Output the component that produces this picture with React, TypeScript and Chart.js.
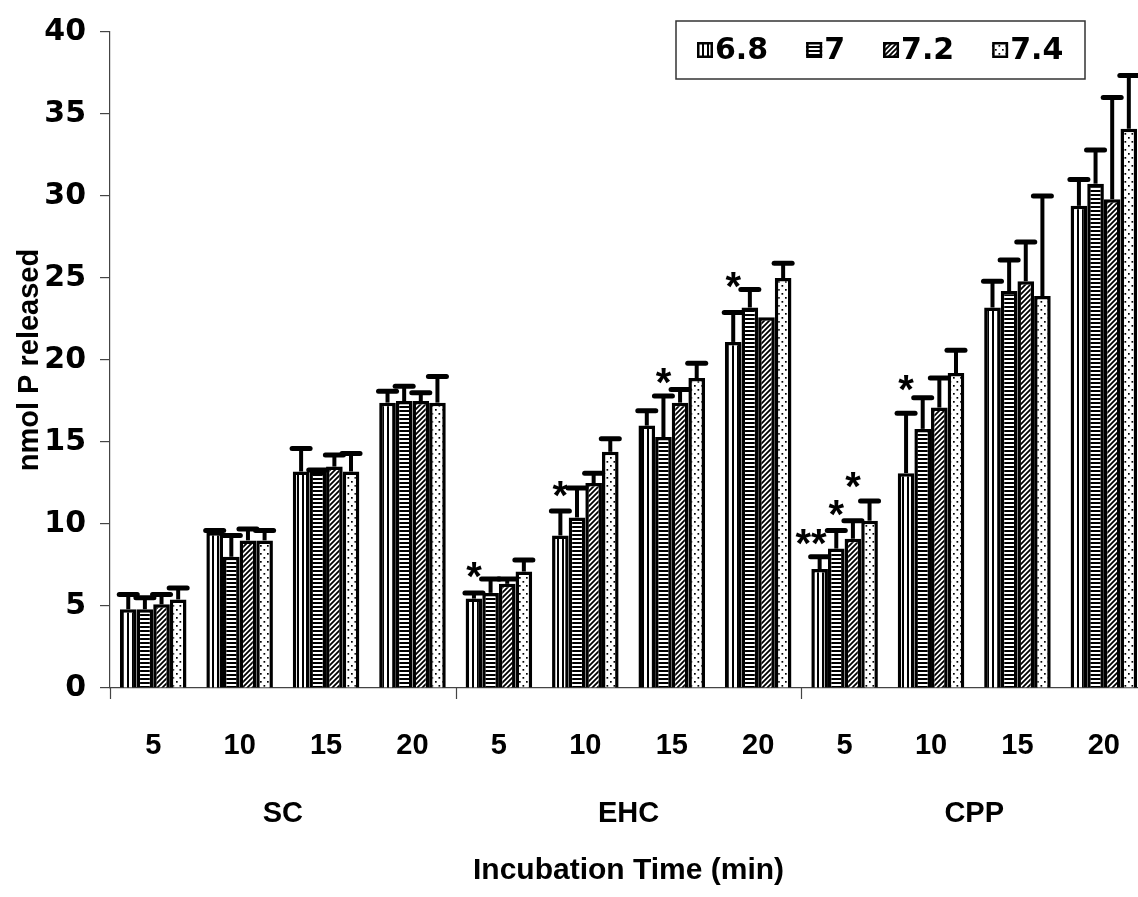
import React, { useEffect, useRef } from "react";
import { Chart, registerables } from "chart.js";

Chart.register(...registerables);

// ---------- data ----------
const categories = ["5", "10", "15", "20", "5", "10", "15", "20", "5", "10", "15", "20"];
const groupLabels = ["SC", "EHC", "CPP"];
const seriesLabels = ["6.8", "7", "7.2", "7.4"];

const ph68 = [4.8, 9.5, 13.2, 17.4, 5.45, 9.3, 16.0, 21.1, 7.25, 13.1, 23.2, 29.4];
const ph70 = [4.8, 8.0, 13.2, 17.5, 5.8, 10.4, 15.3, 23.2, 8.5, 15.8, 24.2, 30.75];
const ph72 = [5.1, 9.0, 13.5, 17.5, 6.35, 12.5, 17.4, 22.6, 9.1, 17.1, 24.8, 29.8];
const ph74 = [5.4, 9.0, 13.2, 17.4, 7.1, 14.4, 18.9, 25.0, 10.2, 19.2, 23.9, 34.1];

const err68 = [0.9, 0.1, 1.4, 0.7, 0.35, 1.5, 0.9, 1.8, 0.75, 3.65, 1.6, 1.6];
const err70 = [0.7, 1.3, 0.1, 0.9, 0.85, 1.8, 2.5, 1.1, 1.1, 1.9, 1.9, 2.05];
const err72 = [0.6, 0.7, 0.7, 0.5, 0.3, 0.6, 0.8, 0, 1.1, 1.8, 2.4, 6.2];
const err74 = [0.7, 0.6, 1.1, 1.6, 0.7, 0.8, 0.9, 0.9, 1.2, 1.4, 6.1, 3.25];

// significance marks
const markCategory = [4, 5, 6, 7, 8, 8, 8, 9];
const markSeries = [0, 0, 1, 0, 0, 1, 2, 0];
const markValue = [7.4, 12.3, 19.2, 25.1, 9.4, 11.2, 12.9, 18.8];
const markText = ["*", "*", "*", "*", "**", "*", "*", "*"];

const yTicksMin = 0;
const yTicksMax = 40;
const yTickStep = 5;

const yTitle = "nmol P released";
const xTitle = "Incubation Time (min)";

// ---------- patterns ----------
function makePattern(kind: string): CanvasPattern | string {
  const c = document.createElement("canvas");
  const g = c.getContext("2d");
  if (!g) return "#fff";
  if (kind === "v") {
    c.width = 5; c.height = 5;
    g.fillStyle = "#fff"; g.fillRect(0, 0, 5, 5);
    g.fillStyle = "#000"; g.fillRect(2, 0, 2, 5);
  } else if (kind === "h") {
    c.width = 4; c.height = 4;
    g.fillStyle = "#fff"; g.fillRect(0, 0, 4, 4);
    g.fillStyle = "#000"; g.fillRect(0, 2, 4, 2);
  } else if (kind === "d") {
    c.width = 5; c.height = 5;
    g.fillStyle = "#fff"; g.fillRect(0, 0, 5, 5);
    g.strokeStyle = "#000"; g.lineWidth = 1.8;
    g.beginPath();
    g.moveTo(-1, 6); g.lineTo(6, -1);
    g.moveTo(-1, 1); g.lineTo(1, -1);
    g.moveTo(4, 6); g.lineTo(6, 4);
    g.stroke();
  } else {
    c.width = 7; c.height = 8;
    g.fillStyle = "#fff"; g.fillRect(0, 0, 7, 8);
    g.fillStyle = "#000";
    g.fillRect(1, 1, 1.7, 1.7);
    g.fillRect(4.5, 5, 1.7, 1.7);
  }
  const p = g.createPattern(c, "repeat");
  return p || "#fff";
}

const SANS = "'Liberation Sans', Arial, sans-serif";
const WIDE = "'DejaVu Sans', Verdana, sans-serif";

// ---------- plugins ----------
const errorBarPlugin = {
  id: "errorBars",
  afterDatasetsDraw(chart: any) {
    const ctx = chart.ctx;
    const y = chart.scales.y;
    chart.data.datasets.forEach((ds: any, di: number) => {
      const meta = chart.getDatasetMeta(di);
      meta.data.forEach((bar: any, i: number) => {
        const v = ds.data[i];
        const e = ds.errors[i];
        if (!e) return;
        const y0 = y.getPixelForValue(v);
        const y1 = y.getPixelForValue(v + e);
        ctx.save();
        ctx.strokeStyle = "#000";
        ctx.lineWidth = 4;
        ctx.beginPath();
        ctx.moveTo(bar.x, y0);
        ctx.lineTo(bar.x, y1);
        ctx.stroke();
        ctx.lineWidth = 5;
        ctx.lineCap = "round";
        ctx.beginPath();
        ctx.moveTo(bar.x - 9, y1);
        ctx.lineTo(bar.x + 9, y1);
        ctx.stroke();
        ctx.restore();
      });
    });
  },
};

const decorPlugin = {
  id: "decor",
  afterDraw(chart: any) {
    const ctx = chart.ctx;
    const x = chart.scales.x;
    const y = chart.scales.y;
    const area = chart.chartArea;
    const n = chart.data.labels.length;
    const catW = (area.right - area.left) / n;
    const perGroup = n / groupLabels.length;

    ctx.save();
    // group separator ticks
    ctx.strokeStyle = "#444";
    ctx.lineWidth = 1.2;
    for (let gI = 0; gI <= groupLabels.length; gI++) {
      const px = Math.round(area.left + gI * perGroup * catW) + 0.5;
      ctx.beginPath();
      ctx.moveTo(px, area.bottom);
      ctx.lineTo(px, area.bottom + 11);
      ctx.stroke();
    }
    // group labels
    ctx.fillStyle = "#000";
    ctx.font = `bold 29px ${SANS}`;
    ctx.textAlign = "center";
    ctx.textBaseline = "middle";
    groupLabels.forEach((lab, gI) => {
      const a = x.getPixelForValue(gI * perGroup);
      const b = x.getPixelForValue(gI * perGroup + perGroup - 1);
      ctx.fillText(lab, (a + b) / 2, 814);
    });

    // significance marks
    const fs = 40;
    ctx.font = `bold ${fs}px ${SANS}`;
    ctx.textBaseline = "alphabetic";
    markText.forEach((t, k) => {
      const meta = chart.getDatasetMeta(markSeries[k]);
      const bar = meta.data[markCategory[k]];
      const py = y.getPixelForValue(markValue[k]) + fs * 0.58;
      if (t.length > 1) {
        ctx.textAlign = "right";
        ctx.fillText(t, bar.x + 7, py);
      } else {
        ctx.textAlign = "center";
        ctx.fillText(t, bar.x, py);
      }
    });

    // legend
    const bx = 676, by = 21, bw = 409, bh = 58;
    ctx.strokeStyle = "#333";
    ctx.lineWidth = 1.5;
    ctx.fillStyle = "#fff";
    ctx.fillRect(bx, by, bw, bh);
    ctx.strokeRect(bx, by, bw, bh);
    ctx.font = `bold 30px ${WIDE}`;
    ctx.textAlign = "left";
    ctx.textBaseline = "middle";
    let cx = 697;
    const cy = by + bh / 2;
    chart.data.datasets.forEach((ds: any) => {
      const s = 16;
      ctx.fillStyle = ds.backgroundColor;
      ctx.fillRect(cx, cy - s / 2, s, s);
      ctx.strokeStyle = "#000";
      ctx.lineWidth = 2.5;
      ctx.strokeRect(cx + 1.25, cy - s / 2 + 1.25, s - 2.5, s - 2.5);
      ctx.fillStyle = "#000";
      ctx.fillText(ds.label, cx + s + 2, cy + 1);
      const tw = ctx.measureText(ds.label).width;
      cx += s + 2 + tw + 38;
    });
    ctx.restore();
  },
};

export default function App() {
  const ref = useRef<HTMLCanvasElement | null>(null);

  useEffect(() => {
    if (!ref.current) return;
    const fills = [makePattern("v"), makePattern("h"), makePattern("d"), makePattern("dots")];
    const values = [ph68, ph70, ph72, ph74];
    const errs = [err68, err70, err72, err74];
    const chart = new Chart(ref.current, {
      type: "bar",
      data: {
        labels: categories,
        datasets: seriesLabels.map((lab, i) => ({
          label: lab,
          data: values[i],
          errors: errs[i],
          backgroundColor: fills[i],
          borderColor: "#000",
          borderWidth: 3.5,
          borderSkipped: "bottom",
          barPercentage: 1,
          categoryPercentage: 0.77,
        })) as any,
      },
      options: {
        responsive: false,
        animation: false,
        layout: { padding: { top: 27, left: 0, right: 0, bottom: 0 } },
        plugins: {
          legend: { display: false },
          tooltip: { enabled: false },
        },
        scales: {
          x: {
            type: "category",
            offset: true,
            grid: { display: false, drawTicks: false },
            border: { display: true, color: "#444", width: 1.2 },
            ticks: {
              color: "#000",
              font: { family: SANS, size: 29, weight: "bold" },
              padding: 41,
              maxRotation: 0,
              autoSkip: false,
            },
            title: {
              display: true,
              text: xTitle,
              color: "#000",
              font: { family: SANS, size: 30, weight: "bold" },
              padding: { top: 0, bottom: 8 },
            },
            afterFit: (s: any) => { s.height = 209; },
          },
          y: {
            min: yTicksMin,
            max: yTicksMax,
            grid: { display: true, drawOnChartArea: false, drawTicks: true, tickLength: 10, color: "#444", lineWidth: 1.2 },
            border: { display: true, color: "#444", width: 1.2 },
            ticks: {
              stepSize: yTickStep,
              color: "#000",
              font: { family: WIDE, size: 30, weight: "bold" },
              padding: 14,
            },
            title: {
              display: true,
              text: yTitle,
              color: "#000",
              font: { family: SANS, size: 29, weight: "bold" },
              padding: { top: 13, bottom: 0 },
            },
            afterFit: (s: any) => { s.width = 110; },
          },
        },
      },
      plugins: [errorBarPlugin, decorPlugin],
    });
    return () => chart.destroy();
  }, []);

  return (
    <div style={{ position: "absolute", left: 0, top: 0, width: 1138, height: 897, overflow: "hidden", background: "#fff" }}>
      <canvas ref={ref} width={1161} height={897} style={{ display: "block" }} />
    </div>
  );
}
